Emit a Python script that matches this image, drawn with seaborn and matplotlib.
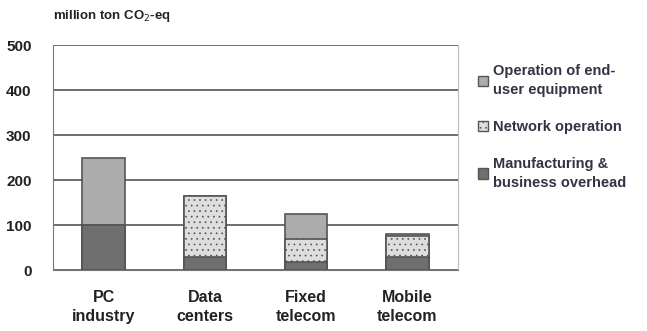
import numpy as np
import pandas as pd
import matplotlib
matplotlib.use('Agg')
import matplotlib.pyplot as plt
import seaborn as sns
from matplotlib.patches import Patch

# values (million ton CO2-eq)
categories = ['PC\nindustry', 'Data\ncenters', 'Fixed\ntelecom', 'Mobile\ntelecom']
manufacturing = [100, 30, 18, 30]
network = [0, 135, 52, 45]
end_user = [150, 0, 55, 5]

sns.set_style('white')
plt.rcParams['font.family'] = ['Liberation Sans', 'DejaVu Sans']
plt.rcParams['hatch.color'] = '#b4b4b4'
plt.rcParams['hatch.linewidth'] = 0.5

df = pd.DataFrame({'cat': categories, 'man': manufacturing,
                   'net': network, 'end': end_user})
df['lvl1'] = df['man']
df['lvl2'] = df['man'] + df['net']
df['lvl3'] = df['lvl2'] + df['end']

fig = plt.figure(figsize=(6.47, 3.31), dpi=100)
ax = fig.add_axes([0.082, 0.184, 0.626, 0.68])

edge = '#555555'
sns.barplot(data=df, x='cat', y='lvl3', color='#acacac', width=0.42,
            edgecolor=edge, linewidth=1.2, ax=ax, saturation=1)
sns.barplot(data=df, x='cat', y='lvl2', color='#dedede', width=0.42,
            edgecolor=edge, linewidth=1.2, ax=ax, saturation=1, hatch='...')
sns.barplot(data=df, x='cat', y='lvl1', color='#6f6f6f', width=0.42,
            edgecolor=edge, linewidth=1.2, ax=ax, saturation=1)

ax.set_ylim(0, 500)
ax.set_yticks([0, 100, 200, 300, 400, 500])
ax.set_xlim(-0.5, 3.5)
ax.yaxis.grid(True, color='#555555', linewidth=1.2)
ax.set_axisbelow(True)
ax.set_xlabel('')
ax.set_ylabel('')
for s in ['left', 'bottom']:
    ax.spines[s].set_color('#777777')
ax.spines['top'].set_visible(False)
ax.spines['right'].set_color('#bbbbbb')
ax.tick_params(axis='y', labelsize=11, pad=12, colors='#222222')
ax.tick_params(axis='x', labelsize=11.5, pad=14, colors='#222222', length=0)
for t in ax.get_yticklabels() + ax.get_xticklabels():
    t.set_fontweight('bold')
    t.set_color('#222222')
for t in ax.get_xticklabels():
    t.set_linespacing(1.35)

fig.text(0.082, 0.952, 'million ton CO$_2$-eq', fontsize=9.5,
         fontweight='bold', color='#222222', va='center')

handles = [Patch(facecolor='#acacac', edgecolor=edge),
           Patch(facecolor='#dedede', edgecolor=edge, hatch='...'),
           Patch(facecolor='#6f6f6f', edgecolor=edge)]
labels = ['Operation of end-\nuser equipment', 'Network operation',
          'Manufacturing &\nbusiness overhead']
leg = fig.legend(handles, labels, loc='upper left', bbox_to_anchor=(0.718, 0.845),
                 frameon=False, handlelength=0.7, handleheight=0.7,
                 handletextpad=0.35, labelspacing=1.55,
                 prop={'weight': 'bold', 'size': 10.5})
for t in leg.get_texts():
    t.set_color('#333344')
    t.set_linespacing(1.45)

fig.savefig('out.png', dpi=100)
